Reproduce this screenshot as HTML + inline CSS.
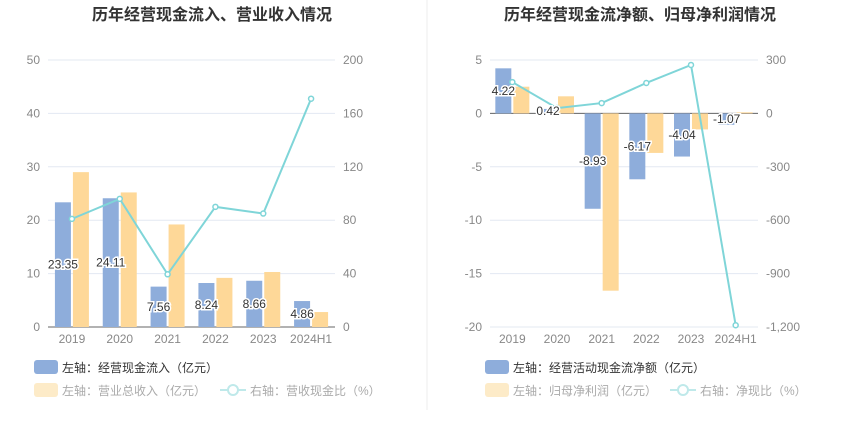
<!DOCTYPE html>
<html><head><meta charset="utf-8"><style>
body{margin:0;background:#fff;width:850px;height:437px;overflow:hidden;font-family:"Liberation Sans","Noto Sans CJK SC",sans-serif}
svg text{font-family:"Liberation Sans","Noto Sans CJK SC",sans-serif}
</style></head><body>
<svg id="c" width="850" height="437">
<line x1="427" y1="0" x2="427" y2="410" stroke="#eee"/>
<text x="212" y="20" text-anchor="middle" font-size="16" font-weight="bold" fill="#333">历年经营现金流入、营业收入情况</text>
<text x="640" y="20" text-anchor="middle" font-size="16" font-weight="bold" fill="#333">历年经营现金流净额、归母净利润情况</text>
<g id="L"></g><g id="R"></g>
<g font-size="12">
<rect x="34" y="360" width="24" height="14" rx="3" fill="#8eaddb"/>
<text x="62" y="372" fill="#333">左轴：经营现金流入（亿元）</text>
<rect x="34" y="383" width="24" height="14" rx="3" fill="#fdebc8"/>
<text x="62" y="395" fill="#aaa">左轴：营业总收入（亿元）</text>
<line x1="220" y1="390" x2="246" y2="390" stroke="#bfe9ea" stroke-width="2"/>
<circle cx="233" cy="390" r="5" fill="#fff" stroke="#bfe9ea" stroke-width="2"/>
<text x="250" y="395" fill="#aaa">右轴：营收现金比（%）</text>
<rect x="485" y="360" width="24" height="14" rx="3" fill="#8eaddb"/>
<text x="513" y="372" fill="#333">左轴：经营活动现金流净额（亿元）</text>
<rect x="485" y="383" width="24" height="14" rx="3" fill="#fdebc8"/>
<text x="513" y="395" fill="#aaa">左轴：归母净利润（亿元）</text>
<line x1="670" y1="390" x2="696" y2="390" stroke="#bfe9ea" stroke-width="2"/>
<circle cx="683" cy="390" r="5" fill="#fff" stroke="#bfe9ea" stroke-width="2"/>
<text x="700" y="395" fill="#aaa">右轴：净现比（%）</text>
</g>
</svg>
<script>
const categories=["2019","2020","2021","2022","2023","2024H1"];
const leftInflow=[23.35,24.11,7.56,8.24,8.66,4.86];
const leftRevenue=[29.0,25.2,19.2,9.2,10.3,2.8];
const leftRatio=[81,96,39.5,90,85,171];
const leftTicks=[0,10,20,30,40,50];
const leftRTicks=[0,40,80,120,160,200];
const rightNetCash=[4.22,0.42,-8.93,-6.17,-4.04,-1.07];
const rightProfit=[2.5,1.6,-16.6,-3.7,-1.5,0.1];
const rightRatio=[176,30,58,171,272,-1190];
const rightTicks=[-20,-15,-10,-5,0,5];
const rightRTicks=["-1,200","-900","-600","-300","0","300"];
const rightRVals=[-1200,-900,-600,-300,0,300];
const NS="http://www.w3.org/2000/svg";
function mk(p,t,a,txt){const e=document.createElementNS(NS,t);for(const k in a)e.setAttribute(k,a[k]);if(txt!==undefined)e.textContent=txt;p.appendChild(e);return e;}
function draw(g,o){
 const top=60,bot=327;
 const y=v=>bot-(v-o.min)/(o.max-o.min)*(bot-top);
 const y2=v=>bot-(v-o.rmin)/(o.rmax-o.rmin)*(bot-top);
 const bw=(o.x1-o.x0)/categories.length;
 const x=i=>o.x0+bw*(i+0.5);
 o.ticks.forEach(t=>{
  let l=mk(g,'line',{x1:o.x0,x2:o.x1,y1:y(t),y2:y(t),stroke:'#e3e8f2'});
  
  let tx=mk(g,'text',{x:o.x0-8,y:y(t)+4,'text-anchor':'end','font-size':12,fill:'#888'},t);
  
 });
 o.rvals.forEach((t,i)=>{
  let tx=mk(g,'text',{x:o.x1+8,y:y2(t)+4,'font-size':12,fill:'#888'},o.rlabels[i]);
  
 });
 const bz=y(0);
 mk(g,'line',{x1:o.x0,x2:o.x1,y1:bz,y2:bz,stroke:'#666'});
 categories.forEach((c,i)=>{
  let tx=mk(g,'text',{x:x(i),y:343,'text-anchor':'middle','font-size':12,fill:'#888'},c);
  
  const a=o.a[i],b=o.b[i],w=16;
  let r1=mk(g,'rect',{x:x(i)-w-1,y:Math.min(y(a),bz),width:w,height:Math.abs(y(a)-bz),fill:'#8eaddb'});
  
  let r2=mk(g,'rect',{x:x(i)+1,y:Math.min(y(b),bz),width:w,height:Math.abs(y(b)-bz),fill:'#fed898'});
  
 });
 const pts=o.r.map((v,i)=>x(i)+','+y2(v)).join(' ');
 let pl=mk(g,'polyline',{points:pts,fill:'none',stroke:'#7fd5d8','stroke-width':2});
 
 o.r.forEach((v,i)=>{
  let cc=mk(g,'circle',{cx:x(i),cy:y2(v),r:2.5,fill:'#fff',stroke:'#7fd5d8','stroke-width':1.5});
  
 });
 o.a.forEach((v,i)=>{
  const ly=o.labY(v,y,bz);
  let tx=mk(g,'text',{x:x(i)-9,y:ly,'text-anchor':'middle','font-size':12,fill:'#333',stroke:'#fff','stroke-width':3,'paint-order':'stroke'},v.toFixed(2));
  
 });
}
draw(document.getElementById('L'),{x0:48,x1:335,min:0,max:50,rmin:0,rmax:200,ticks:leftTicks,rvals:leftRTicks,rlabels:leftRTicks,a:leftInflow,b:leftRevenue,r:leftRatio,an:'inflow',bn:'revenue',labY:(v,y,bz)=>(y(v)+bz)/2+4});
draw(document.getElementById('R'),{x0:490,x1:758,min:-20,max:5,rmin:-1200,rmax:300,ticks:rightTicks,rvals:rightRVals,rlabels:rightRTicks,a:rightNetCash,b:rightProfit,r:rightRatio,an:'netcash',bn:'profit',labY:(v,y,bz)=>(y(v)+bz)/2+4});
</script>
</body></html>
